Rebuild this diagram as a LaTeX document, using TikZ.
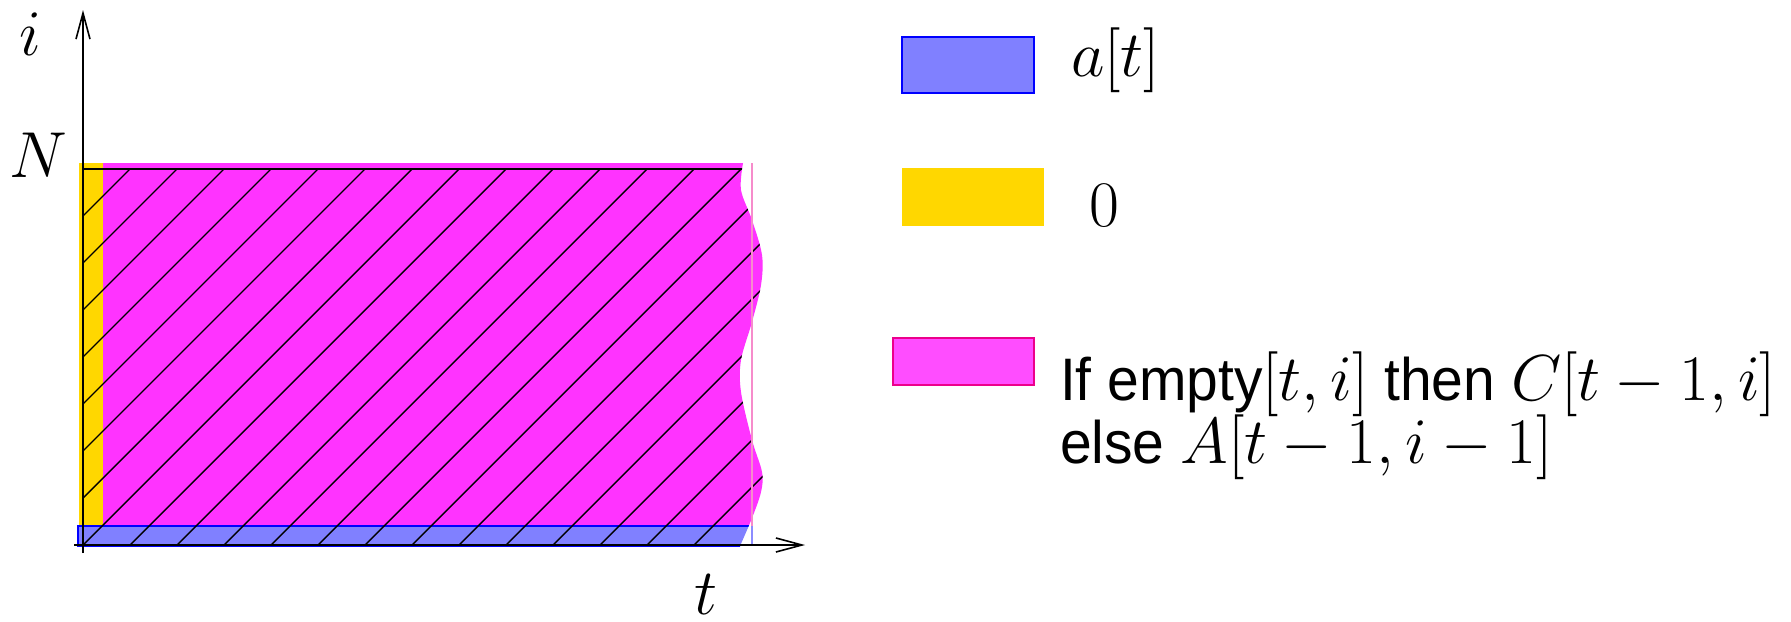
\documentclass[tikz,border=0pt]{standalone}
\usepackage{fix-cm}
\usepackage{fontspec}
\newfontfamily\arialfont{Liberation Sans}
\usetikzlibrary{arrows.meta}
\definecolor{magA}{HTML}{FF33FF}
\definecolor{magL}{HTML}{FF4DFF}
\definecolor{bluF}{HTML}{8080FF}
\definecolor{goldY}{HTML}{FFD700}
\newcommand{\txt}[1]{\scalebox{0.95}[1]{\fontsize{30}{36}\arialfont #1}}
\begin{document}
\begin{tikzpicture}[x=0.5pt,y=-0.5pt,
  lbl/.style={inner sep=0pt, outer sep=0pt, anchor=base west, font=\fontsize{32.5}{39}\selectfont},
  ax/.style={line width=0.8pt, -{Straight Barb[length=13pt,width=7pt,line width=0.8pt]}},
  hatch/.style={line width=0.7pt, black},
  legbox/.style={line width=0.9pt}]
\useasboundingbox (0,0) rectangle (1791,621);
% main region, clipped by the wavy right edge
\begin{scope}
  \clip (0,150) -- (743,150) -- plot[smooth, tension=0.55] coordinates {(743,163) (741,190) (752,220) (762,255) (761,285) (752,322) (741,360) (741,392) (752,440) (762,472) (761,492) (752,518) (740,546)} -- (740,560) -- (0,560) -- cycle;
  \fill[goldY] (79,163) rectangle (103,526);
  \fill[magA] (103,163) rectangle (790,526);
  \filldraw[fill=bluF, draw=blue, line width=0.8pt] (78,526) rectangle (800,546);
  \begin{scope}
    \clip (83,169) rectangle (800,545);
    \foreach \c in {299,346,...,1286} \draw[hatch] (\c-100,100) -- (\c-600,600);
  \end{scope}
  \draw[hatch, line width=0.8pt] (83,169) -- (800,169);
\end{scope}
\draw[magenta!45, line width=0.6pt] (752,163) -- (752,526);
\draw[blue!45, line width=0.6pt] (752,526) -- (752,546);
% axes
\coordinate (ibot) at (83,553);
\coordinate (itip) at (83,10);
\coordinate (tleft) at (74,545);
\coordinate (ttip) at (805,545);
\draw[ax] (ibot) -- (itip);
\draw[ax] (tleft) -- (ttip);
\node[lbl] (labi) at (19,55) {$i$};
\node[lbl] (labN) at (10,177) {$N$};
\node[lbl] (labt) at (694,614) {$t$};
% legend
\filldraw[legbox, fill=bluF, draw=blue] (902,37) rectangle (1034,93);
\fill[goldY] (902,168) rectangle (1044,226);
\filldraw[legbox, fill=magL, draw=magenta, line width=0.8pt] (893,338) rectangle (1034,385);
\node[lbl] (lega) at (1071,76) {$a[t]$};
\node[lbl] (leg0) at (1089,226) {$0$};
\node[lbl] (legc1) at (1060,400) {\txt{If empty}$[t,i]$\txt{ then }$C[t-1,i]$};
\node[lbl] (legc2) at (1060,463) {\txt{else }$A[t-1,i-1]$};
\end{tikzpicture}
\end{document}
